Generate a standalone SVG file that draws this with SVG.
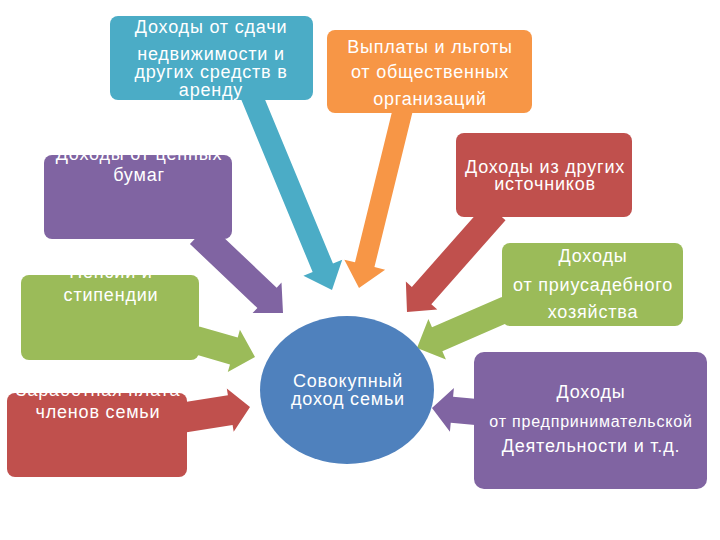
<svg xmlns="http://www.w3.org/2000/svg" width="720" height="540" viewBox="0 0 720 540">
<style>
.t{font-family:"Liberation Sans",Arial,sans-serif;font-size:18px;letter-spacing:0.8px;fill:#fff;text-anchor:middle}
.s{font-size:16px}
.teal{fill:#4BACC6}.orange{fill:#F79646}.purple{fill:#8064A2}.red{fill:#C0504D}.green{fill:#9BBB59}.blue{fill:#4F81BD}
</style>
<rect width="720" height="540" fill="#fff"/>
<g id="connectors">
<polygon class="teal" transform="translate(332,290) rotate(67.5)" points="0,0 -24,-21 -24,-11 -215,-11 -215,11 -24,11 -24,21"/>
<polygon class="orange" transform="translate(359,288) rotate(103.8)" points="0,0 -24,-21 -24,-10 -185,-10 -185,10 -24,10 -24,21"/>
<polygon class="purple" transform="translate(283,313) rotate(43.5)" points="0,0 -22,-21 -22,-14 -115,-14 -115,14 -22,14 -22,21"/>
<polygon class="green" transform="translate(255,357) rotate(16)" points="0,0 -22,-22 -22,-14 -62,-14 -62,14 -22,14 -22,22"/>
<polygon class="red" transform="translate(250,407) rotate(-9)" points="0,0 -20,-22 -20,-15 -68,-15 -68,15 -20,15 -20,22"/>
<polygon class="red" transform="translate(407,312) rotate(131.5)" points="0,0 -22,-21 -22,-13 -134,-13 -134,13 -22,13 -22,21"/>
<polygon class="green" transform="translate(417,348) rotate(156.5)" points="0,0 -22,-22 -22,-13 -98,-13 -98,13 -22,13 -22,22"/>
<polygon class="purple" transform="translate(432,408) rotate(185.2)" points="0,0 -20,-22 -20,-13 -50,-13 -50,13 -20,13 -20,22"/>
</g>
<g id="rent">
<rect class="teal" x="110" y="16" width="203" height="84" rx="8"/>
<text class="t" x="211" y="33">Доходы от сдачи</text>
<text class="t" x="211" y="60">недвижимости и</text>
<text class="t" x="211" y="78">других средств в</text>
<text class="t" x="211" y="96">аренду</text>
</g>
<g id="public">
<rect class="orange" x="327" y="30" width="205" height="83" rx="8"/>
<text class="t" x="430" y="53">Выплаты и льготы</text>
<text class="t" x="430" y="78">от общественных</text>
<text class="t" x="430" y="105">организаций</text>
</g>
<g id="securities">
<rect class="purple" x="44" y="155" width="188" height="84" rx="8"/>
<text class="t" x="139" y="160">Доходы от ценных</text>
<text class="t" x="139" y="181">бумаг</text>
</g>
<g id="other">
<rect class="red" x="456" y="133" width="176" height="84" rx="8"/>
<text class="t" x="545" y="173">Доходы из других</text>
<text class="t" x="545" y="190">источников</text>
</g>
<g id="pensions">
<rect class="green" x="21" y="275" width="178" height="85" rx="8"/>
<text class="t" x="111" y="278">Пенсии и</text>
<text class="t" x="111" y="301">стипендии</text>
</g>
<g id="wages">
<rect class="red" x="7" y="393" width="180" height="84" rx="8"/>
<text class="t" x="98" y="396">Заработная плата</text>
<text class="t" x="98" y="418">членов семьи</text>
</g>
<g id="household">
<rect class="green" x="502" y="243" width="181" height="83" rx="8"/>
<text class="t" x="593" y="262">Доходы</text>
<text class="t" x="593" y="291">от приусадебного</text>
<text class="t" x="593" y="318">хозяйства</text>
</g>
<g id="business">
<rect class="purple" x="474" y="352" width="233" height="137" rx="10"/>
<text class="t" x="591" y="398">Доходы</text>
<text class="t s" x="591" y="427">от предпринимательской</text>
<text class="t" x="591" y="452">Деятельности и т.д.</text>
</g>
<g id="total">
<ellipse class="blue" cx="347" cy="390" rx="87" ry="74"/>
<text class="t" x="348" y="387">Совокупный</text>
<text class="t" x="348" y="405">доход семьи</text>
</g>
</svg>
